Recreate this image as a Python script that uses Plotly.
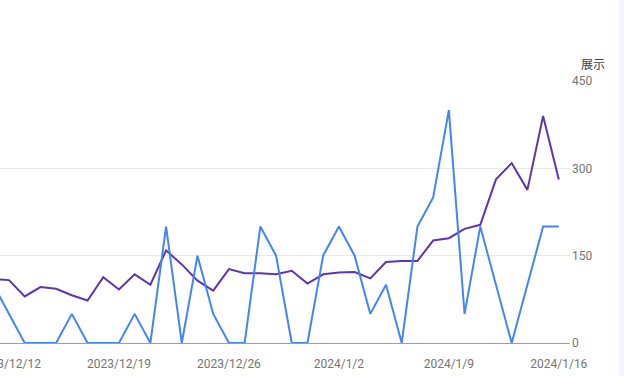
import plotly.graph_objects as go
import pandas as pd

dates = pd.date_range("2023-12-11", "2024-01-16", freq="D").strftime("%Y-%m-%d").tolist()

clicks = [2, 1, 0, 0, 0, 1, 0, 0, 0, 1, 0, 4, 0, 3, 1, 0, 0, 4, 3, 0, 0,
          3, 4, 3, 1, 2, 0, 4, 5, 8, 1, 4, 2, 0, 2, 4, 4]

impressions = [110, 108, 80, 96, 93, 82, 73, 113, 92, 118, 100, 159, 135, 107, 90,
               127, 120, 120, 118, 124, 102, 118, 121, 122, 111, 139, 141, 141,
               176, 180, 196, 203, 281, 309, 263, 390, 281]

tick_dates = ["2023-12-12", "2023-12-19", "2023-12-26", "2024-01-02", "2024-01-09", "2024-01-16"]
tick_labels = ["2023/12/12", "2023/12/19", "2023/12/26", "2024/1/2", "2024/1/9", "2024/1/16"]

imp_ticks = [0, 150, 300, 450]
axis_title = "展示"

fig = go.Figure()
fig.add_trace(go.Scatter(x=dates, y=clicks, yaxis="y2", mode="lines",
                         line=dict(color="#4285f4", width=2), name="点击"))
fig.add_trace(go.Scatter(x=dates, y=impressions, yaxis="y", mode="lines",
                         line=dict(color="#5e35b1", width=2), name="展示"))

fig.update_layout(
    width=624, height=376,
    margin=dict(l=0, r=54, t=81, b=33, autoexpand=False),
    paper_bgcolor="white", plot_bgcolor="white",
    showlegend=False,
    font=dict(family="Roboto", size=12, color="#757575"),
    xaxis=dict(
        type="date", automargin=False,
        range=["2023-12-11 10:15", "2024-01-16 17:05"],
        tickvals=tick_dates, ticktext=tick_labels,
        showgrid=False, zeroline=False, showline=False,
        ticks="", ticklabelstandoff=12, ticklabeloverflow="allow",
        tickfont=dict(family="Roboto", size=12, color="#757575"),
    ),
    yaxis=dict(
        side="right", range=[0, 450], tickvals=imp_ticks, automargin=False,
        showgrid=True, gridcolor="#e8e8e8", gridwidth=1,
        zeroline=True, zerolinecolor="#9e9e9e", zerolinewidth=1,
        showline=False, ticks="", ticklabelstandoff=1,
        tickfont=dict(family="Roboto", size=12, color="#757575"),
    ),
    yaxis2=dict(
        overlaying="y", side="left", range=[0, 9], automargin=False,
        showgrid=False, zeroline=False, showticklabels=False, showline=False,
    ),
    annotations=[dict(
        text=axis_title, xref="paper", yref="paper",
        x=579 / 570, y=1 + 17 / 262, xanchor="left", yanchor="middle",
        showarrow=False,
        font=dict(family="Noto Sans CJK SC", size=12, color="#3c4043"),
    )],
    shapes=[dict(
        type="rect", xref="paper", yref="paper",
        x0=619 / 570, x1=630 / 570, y0=-1, y1=2,
        fillcolor="#f3f4fd", line=dict(width=0), layer="below",
    )],
)

fig.write_html("out.html")
